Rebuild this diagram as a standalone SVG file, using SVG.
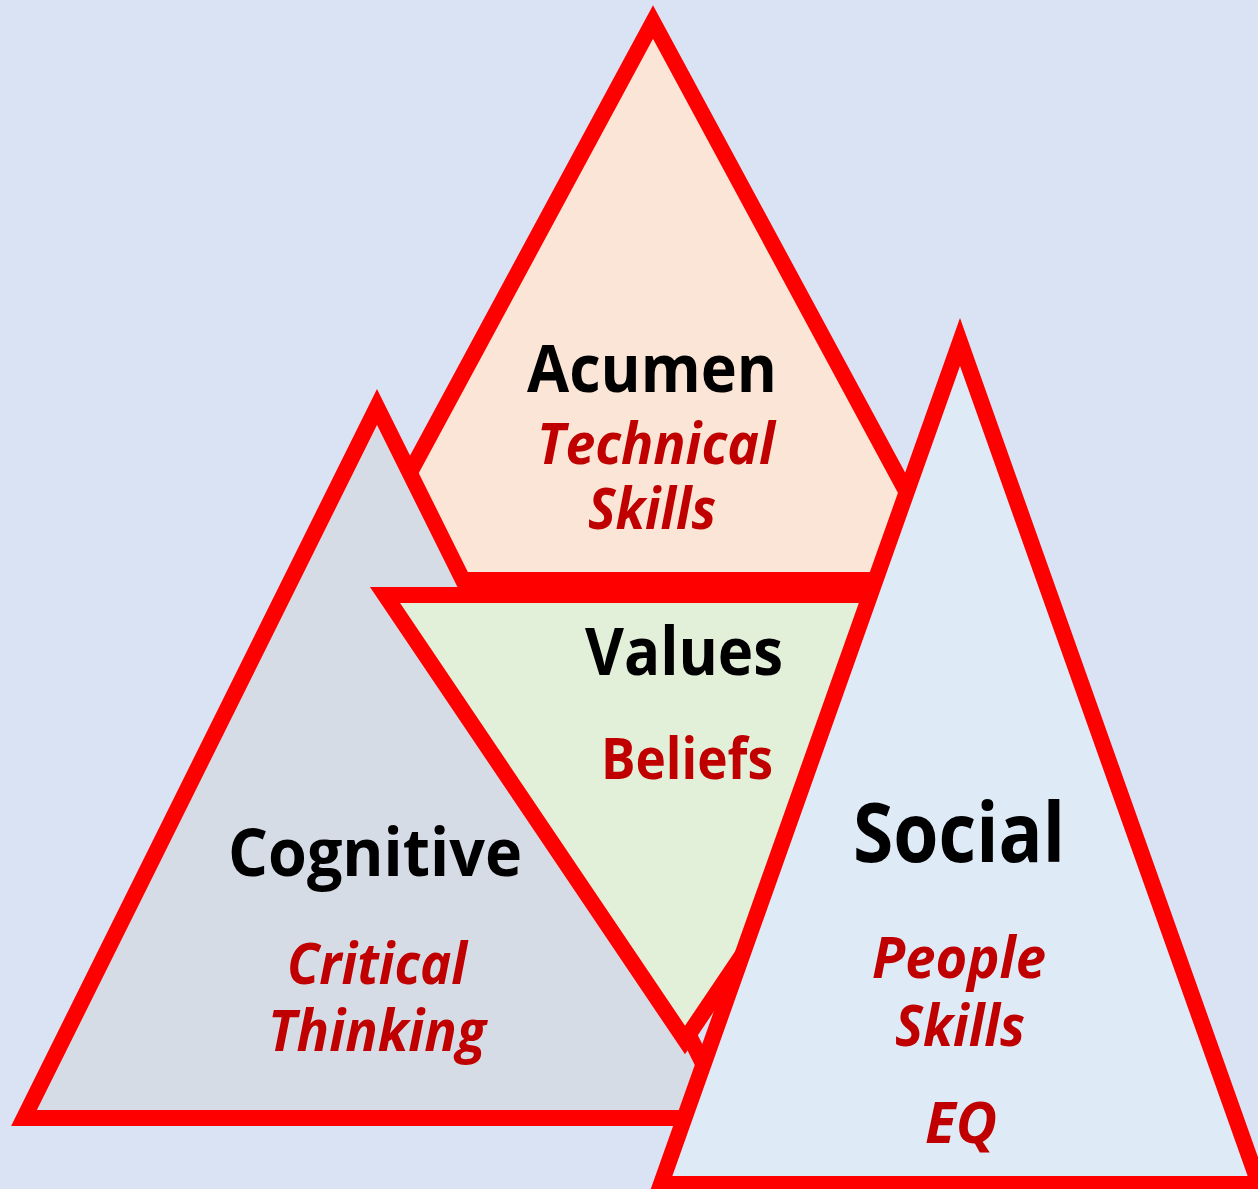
<svg xmlns="http://www.w3.org/2000/svg" width="1258" height="1189" viewBox="0 0 1258 1189">
<style>
.tri{stroke:#FF0000;stroke-width:16;stroke-linejoin:miter;stroke-miterlimit:10}
.title{font-family:"Open Sans","Noto Sans",sans-serif;font-weight:bold;fill:#000;text-anchor:middle}
.sub{font-family:"Open Sans","Noto Sans",sans-serif;font-weight:bold;font-style:italic;fill:#C00000;text-anchor:middle}
.subn{font-family:"Open Sans","Noto Sans",sans-serif;font-weight:bold;fill:#C00000;text-anchor:middle}
</style>
<rect width="1258" height="1189" fill="#DAE3F3"/>
<g id="acumen">
<polygon class="tri" points="653,22 954,580 352,580" fill="#FBE5D6"/>
<text class="title" x="652" y="392" font-size="67" textLength="250" lengthAdjust="spacingAndGlyphs">Acumen</text>
<text class="sub" x="656" y="464" font-size="57" textLength="238" lengthAdjust="spacingAndGlyphs">Technical</text>
<text class="sub" x="652" y="529" font-size="57" textLength="128" lengthAdjust="spacingAndGlyphs">Skills</text>
</g>
<g id="cognitive">
<polygon class="tri" points="377,407 730,1118 24,1118" fill="#D6DCE5"/>
<text class="title" x="375" y="876" font-size="67" textLength="294" lengthAdjust="spacingAndGlyphs">Cognitive</text>
<text class="sub" x="377" y="984" font-size="57" textLength="180" lengthAdjust="spacingAndGlyphs">Critical</text>
<text class="sub" x="377" y="1051" font-size="57" textLength="218" lengthAdjust="spacingAndGlyphs">Thinking</text>
</g>
<g id="values">
<polygon class="tri" points="385,595 985,595 685,1040" fill="#E2F0D9"/>
<text class="title" x="684" y="675" font-size="67" textLength="198" lengthAdjust="spacingAndGlyphs">Values</text>
<text class="subn" x="687" y="779" font-size="57" textLength="172" lengthAdjust="spacingAndGlyphs">Beliefs</text>
</g>
<g id="social">
<polygon class="tri" points="960,342 1259,1184 661,1184" fill="#DEEBF7"/>
<text class="title" x="959" y="862" font-size="82" textLength="212" lengthAdjust="spacingAndGlyphs">Social</text>
<text class="sub" x="959" y="978" font-size="57" textLength="174" lengthAdjust="spacingAndGlyphs">People</text>
<text class="sub" x="960" y="1046" font-size="57" textLength="130" lengthAdjust="spacingAndGlyphs">Skills</text>
<text class="sub" x="961" y="1143" font-size="57" textLength="72" lengthAdjust="spacingAndGlyphs">EQ</text>
</g>
<g id="connectors"/>
</svg>
